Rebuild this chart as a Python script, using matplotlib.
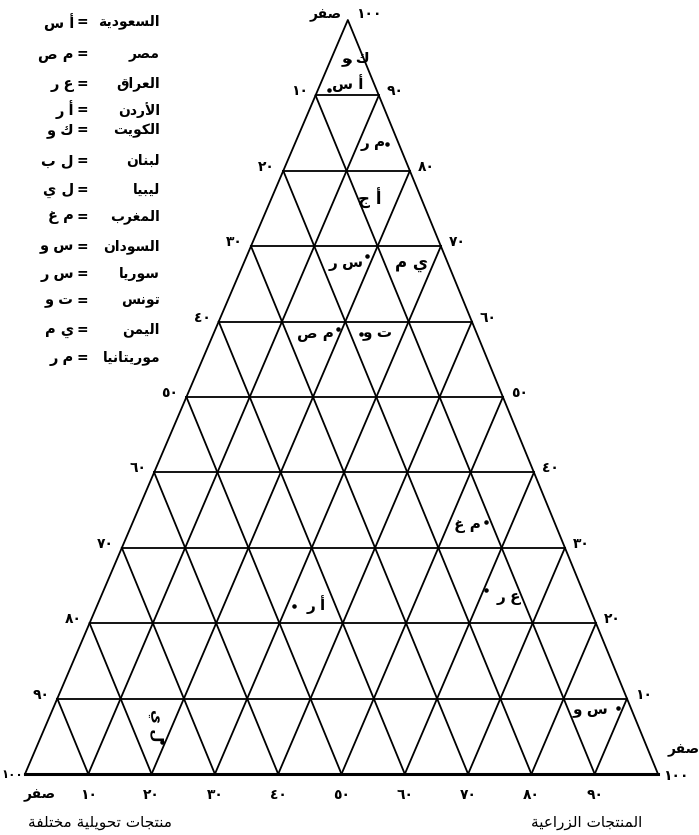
import matplotlib.pyplot as plt

# legend: country name -> code used on the triangle
countries = ['السعودية', 'مصر', 'العراق', 'الأردن', 'الكويت', 'لبنان', 'ليبيا',
             'المغرب', 'السودان', 'سوريا', 'تونس', 'اليمن', 'موريتانيا']
codes = ['أ س', 'م ص', 'ع ر', 'أ ر', 'ك و', 'ل ب', 'ل ي',
         'م غ', 'س و', 'س ر', 'ت و', 'ي م', 'م ر']

# plotted countries: share on the bottom axis (agricultural) and share of the apex
pt_codes = ['ك و', 'أ س', 'م ر', 'س ر', 'م ص', 'ت و', 'م غ', 'أ ر', 'ع ر', 'ل ي', 'س و']
pt_agri = [3.0, 1.7, 14.5, 19.0, 19.3, 23.4, 55.8, 31.2, 60.4, 19.4, 89.2]
pt_top = [94.5, 90.7, 83.6, 68.7, 59.0, 58.3, 33.4, 22.3, 24.4, 4.3, 8.8]

# codes written without a dot
txt_codes = ['أ ج', 'ي م']
txt_agri = [15.6, 26.5]
txt_top = [76.3, 67.7]

ticks = [10, 20, 30, 40, 50, 60, 70, 80, 90]
bottom_left_title = 'منتجات تحويلية مختلفة'
bottom_right_title = 'المنتجات الزراعية'
zero_word = 'صفر'

# label offsets (pixels) for the dotted points, same order as pt_codes
lab_dx = [7, 19, -13, -21, -22, 16, -19, 22, 23, -6, -28]
lab_dy = [3, 7, 0, -7, -4, 1, -3, 1, -7, 16, -3]
lab_rot = [0, 0, 0, 0, 0, 0, 0, 0, 0, -90, 0]


# --- tiny arabic shaper (matplotlib has no shaping / bidi) ---
FORMS = {
    'ا': ('\uFE8D', '\uFE8E', None, None),
    'أ': ('\uFE83', '\uFE84', None, None),
    'ب': ('\uFE8F', '\uFE90', '\uFE91', '\uFE92'),
    'ة': ('\uFE93', '\uFE94', None, None),
    'ت': ('\uFE95', '\uFE96', '\uFE97', '\uFE98'),
    'ج': ('\uFE9D', '\uFE9E', '\uFE9F', '\uFEA0'),
    'ح': ('\uFEA1', '\uFEA2', '\uFEA3', '\uFEA4'),
    'خ': ('\uFEA5', '\uFEA6', '\uFEA7', '\uFEA8'),
    'د': ('\uFEA9', '\uFEAA', None, None),
    'ر': ('\uFEAD', '\uFEAE', None, None),
    'ز': ('\uFEAF', '\uFEB0', None, None),
    'س': ('\uFEB1', '\uFEB2', '\uFEB3', '\uFEB4'),
    'ص': ('\uFEB9', '\uFEBA', '\uFEBB', '\uFEBC'),
    'ع': ('\uFEC9', '\uFECA', '\uFECB', '\uFECC'),
    'غ': ('\uFECD', '\uFECE', '\uFECF', '\uFED0'),
    'ف': ('\uFED1', '\uFED2', '\uFED3', '\uFED4'),
    'ق': ('\uFED5', '\uFED6', '\uFED7', '\uFED8'),
    'ك': ('\uFED9', '\uFEDA', '\uFEDB', '\uFEDC'),
    'ل': ('\uFEDD', '\uFEDE', '\uFEDF', '\uFEE0'),
    'م': ('\uFEE1', '\uFEE2', '\uFEE3', '\uFEE4'),
    'ن': ('\uFEE5', '\uFEE6', '\uFEE7', '\uFEE8'),
    'و': ('\uFEED', '\uFEEE', None, None),
    'ي': ('\uFEF1', '\uFEF2', '\uFEF3', '\uFEF4'),
    '\uFEF7': ('\uFEF7', '\uFEF8', None, None),  # lam-alef with hamza
}


def ar(s):
    s = s.replace('لأ', '\uFEF7')
    out = []
    for i, c in enumerate(s):
        if c not in FORMS:
            out.append(c)
            continue
        prev = s[i - 1] if i > 0 else None
        nxt = s[i + 1] if i + 1 < len(s) else None
        jp = prev in FORMS and FORMS[prev][2] is not None
        jn = FORMS[c][2] is not None and nxt in FORMS
        if jp and jn:
            out.append(FORMS[c][3])
        elif jp:
            out.append(FORMS[c][1])
        elif jn:
            out.append(FORMS[c][2])
        else:
            out.append(FORMS[c][0])
    return ''.join(reversed(out))


APEX = 0.51  # apex sits a bit right of the middle


def tern(r, t):
    return r + APEX * t, t


plt.rcParams['font.family'] = ['DejaVu Sans']

W, H = 699, 835
fig = plt.figure(figsize=(W / 100, H / 100), dpi=100)
ax = fig.add_axes([25 / W, 61 / H, 633 / W, 754 / H])
ax.set_xlim(0, 100)
ax.set_ylim(0, 100)
ax.axis('off')

lw = 1.3
# outline
xs, ys = zip(*[tern(0, 0), tern(100, 0), tern(0, 100), tern(0, 0)])
ax.plot(xs, ys, color='black', lw=lw, clip_on=False)
ax.plot([0, 100], [0, 0], color='black', lw=2.2, clip_on=False)

# grid
for v in ticks:
    a = tern(0, v); b = tern(100 - v, v)
    ax.plot([a[0], b[0]], [a[1], b[1]], color='black', lw=lw)
    a = tern(v, 0); b = tern(v, 100 - v)
    ax.plot([a[0], b[0]], [a[1], b[1]], color='black', lw=lw)
    a = tern(100 - v, 0); b = tern(0, 100 - v)
    ax.plot([a[0], b[0]], [a[1], b[1]], color='black', lw=lw)

tick_kw = dict(textcoords='offset pixels', fontsize=10, fontweight='bold', va='center',
               annotation_clip=False)


def digits(n):
    return ''.join(chr(0x0660 + int(d)) for d in str(n))


# side labels
for v in ticks:
    t = 100 - v
    ax.annotate(digits(v), tern(0, t), xytext=(-8, 4), ha='right', **tick_kw)
    ax.annotate(digits(100 - v), tern(100 - t, t), xytext=(8, 4), ha='left', **tick_kw)
    ax.annotate(digits(v), tern(v, 0), xytext=(0, -21), ha='center', **tick_kw)

ax.annotate(ar(zero_word), tern(0, 100), xytext=(-6, 5), ha='right', **tick_kw)
ax.annotate(digits(100), tern(0, 100), xytext=(8, 6), ha='left', **tick_kw)
ax.annotate(digits(100), tern(0, 0), xytext=(-2, 0), ha='right',
            textcoords='offset pixels', fontsize=8.5, fontweight='bold', va='center',
            annotation_clip=False)
ax.annotate(ar(zero_word), tern(0, 0), xytext=(15, -21), ha='center', **tick_kw)
ax.annotate(digits(100), tern(100, 0), xytext=(5, -2), ha='left', **tick_kw)
ax.annotate(ar(zero_word), tern(100, 0), xytext=(10, 24), ha='left', **tick_kw)

# countries
px = [tern(r, t)[0] for r, t in zip(pt_agri, pt_top)]
ax.scatter(px, pt_top, s=5, color='black', zorder=3)
for i, c in enumerate(pt_codes):
    ax.annotate(ar(c), (px[i], pt_top[i]), xytext=(lab_dx[i], lab_dy[i]),
                textcoords='offset pixels', ha='center', va='center',
                fontsize=11, fontweight='bold', rotation=lab_rot[i])
for c, r, t in zip(txt_codes, txt_agri, txt_top):
    ax.text(tern(r, t)[0], t, ar(c), ha='center', va='center', fontsize=12,
            fontweight='bold')

# bottom titles
fig.text(100 / W, 1 - 822 / H, ar(bottom_left_title), ha='center', va='center', fontsize=11)
fig.text(587 / W, 1 - 822 / H, ar(bottom_right_title), ha='center', va='center', fontsize=11)

# legend
leg_y = [22, 54, 84, 110, 130, 161, 190, 217, 247, 274, 301, 330, 358]
for name, code, y in zip(countries, codes, leg_y):
    fig.text(160 / W, 1 - y / H, ar(name), ha='right', va='center',
             fontsize=10, fontweight='bold')
    fig.text(82 / W, 1 - y / H, '=', ha='center', va='center', fontsize=10, fontweight='bold')
    fig.text(74 / W, 1 - y / H, ar(code), ha='right', va='center',
             fontsize=10.5, fontweight='bold')

fig.savefig('out.png', dpi=100)
